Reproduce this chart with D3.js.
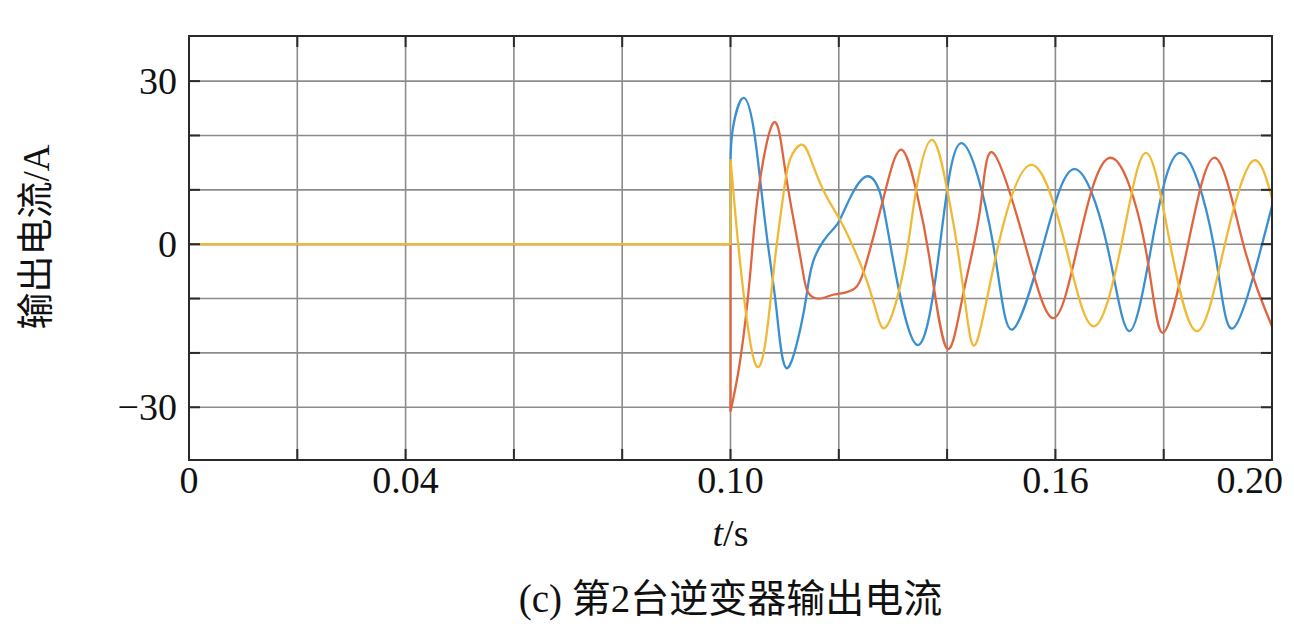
<!DOCTYPE html>
<html>
<head>
<meta charset="utf-8">
<script src="https://cdn.jsdelivr.net/npm/d3@7"></script>
<style>
  html, body { margin: 0; padding: 0; background: #fff; }
  svg { display: block; }
  text { font-family: "Liberation Serif", "Noto Sans CJK SC", serif; fill: #111; }
</style>
</head>
<body>
<svg id="chart" width="1294" height="636"></svg>
<script>
// ---- data (time in s, current in A) ----
const xTicks = [0, 0.02, 0.04, 0.06, 0.08, 0.10, 0.12, 0.14, 0.16, 0.18, 0.20];
const xTickLabels = {"0": "0", "0.04": "0.04", "0.1": "0.10", "0.16": "0.16", "0.2": "0.20"};
const yTicks = [-30, -20, -10, 0, 10, 20, 30];
const yTickLabels = {"-30": "\u221230", "0": "0", "30": "30"};
const stepTime = 0.1;

const phaseBlue = [
  [0.1000, 15.6], [0.1005, 21.7], [0.1024, 26.9], [0.1042, 21.7], [0.1054, 12.5],
  [0.1069, 0], [0.1085, -12.1], [0.1103, -22.8], [0.1130, -15.1], [0.1141, -9.0],
  [0.1152, -3.4], [0.1171, 0.5], [0.1189, 2.7], [0.1202, 4.5], [0.1226, 9.5],
  [0.1254, 12.5], [0.1276, 9.5], [0.1295, 0], [0.1344, -18.5], [0.1387, 0],
  [0.1427, 18.6], [0.1485, 0], [0.1520, -15.7], [0.1578, 0], [0.1635, 13.8],
  [0.1695, 0], [0.1736, -16.0], [0.1778, 0], [0.1830, 16.8], [0.1892, 0],
  [0.1929, -15.4], [0.2000, 7.0]
];
const phaseRed = [
  [0.1000, -30.8], [0.1018, -21.3], [0.1036, -5.9], [0.1051, 9.4], [0.1079, 22.3],
  [0.1098, 15.6], [0.1113, 6.4], [0.1130, -2.9], [0.1141, -8.4], [0.1156, -9.9],
  [0.1171, -9.9], [0.1189, -9.3], [0.1208, -9.0], [0.1230, -8.1], [0.1245, -5.3],
  [0.1264, 1.4], [0.1288, 10.6], [0.1316, 17.4], [0.1344, 9.4], [0.1368, -2.9],
  [0.1399, -19.1], [0.1430, -9.0], [0.1461, 6.4], [0.1485, 16.8], [0.1544, 0],
  [0.1596, -13.6], [0.1642, 0], [0.1701, 15.9], [0.1765, 0], [0.1798, -16.3],
  [0.1845, 0], [0.1895, 15.9], [0.1947, 0], [0.2000, -15.1]
];
const phaseYellow = [
  [0.1000, 15.6], [0.1011, 3.3], [0.1024, -9.0], [0.1039, -19.4], [0.1053, -22.5],
  [0.1067, -16.3], [0.1082, -2.9], [0.1098, 9.4], [0.1110, 15.6], [0.1130, 18.3],
  [0.1146, 16.2], [0.1171, 10.0], [0.1202, 4.5], [0.1226, -0.4], [0.1251, -6.5],
  [0.1270, -12.7], [0.1285, -15.4], [0.1307, -10.2], [0.1328, 0], [0.1344, 10.6],
  [0.1372, 19.2], [0.1399, 10.6], [0.1418, 0], [0.1436, -12.7], [0.1455, -17.9],
  [0.1495, 0], [0.1556, 14.6], [0.1618, 0], [0.1670, -15.1], [0.1722, 0],
  [0.1767, 16.8], [0.1812, 0], [0.1862, -16.0], [0.1913, 0], [0.1963, 15.2],
  [0.2000, 8.5]
];
const seriesList = [
  {name: "ia", data: phaseBlue, color: "#3a8fd0"},
  {name: "ib", data: phaseRed, color: "#e0653f"},
  {name: "ic", data: phaseYellow, color: "#f0b935"}
];

// ---- layout ----
const W = 1294;
const L = 189, R = 1272, T = 36, B = 460;
const svg = d3.select("#chart");
const x = d3.scaleLinear().domain([0, 0.2]).range([L, R]);
const y = d3.scaleLinear().domain([-39.7, 38.3]).range([B, T]);

// grid
const grid = svg.append("g");
grid.selectAll("line.gx").data(xTicks.slice(1, -1)).enter().append("line")
  .attr("x1", d => x(d)).attr("x2", d => x(d)).attr("y1", T).attr("y2", B)
  .attr("stroke", "#8c8c8c").attr("stroke-width", 1.6);
grid.selectAll("line.gy").data(yTicks).enter().append("line")
  .attr("x1", L).attr("x2", R).attr("y1", d => y(d)).attr("y2", d => y(d))
  .attr("stroke", "#8c8c8c").attr("stroke-width", 1.6);

// lines
svg.append("clipPath").attr("id", "clip").append("rect")
  .attr("x", L).attr("y", T).attr("width", R - L).attr("height", B - T);
const lines = svg.append("g").attr("clip-path", "url(#clip)");
const linear = d3.line().x(d => x(d[0])).y(d => y(d[1]));
const smooth = d3.line().x(d => x(d[0])).y(d => y(d[1])).curve(d3.curveNatural);
seriesList.forEach(s => {
  const pre = [[0, 0], [stepTime, 0], s.data[0]];
  lines.append("path").attr("d", linear(pre)).attr("fill", "none")
    .attr("stroke", s.color).attr("stroke-width", 2.3);
  lines.append("path").attr("d", smooth(s.data)).attr("fill", "none")
    .attr("stroke", s.color).attr("stroke-width", 2.3).attr("stroke-linejoin", "round");
});

// frame
svg.append("rect").attr("x", L).attr("y", T).attr("width", R - L).attr("height", B - T)
  .attr("fill", "none").attr("stroke", "#2a2a2a").attr("stroke-width", 2);

// ticks (inward)
const tickLen = 11;
const tk = svg.append("g").attr("stroke", "#2a2a2a").attr("stroke-width", 2);
xTicks.forEach(d => {
  tk.append("line").attr("x1", x(d)).attr("x2", x(d)).attr("y1", B).attr("y2", B - tickLen);
  tk.append("line").attr("x1", x(d)).attr("x2", x(d)).attr("y1", T).attr("y2", T + tickLen);
});
yTicks.forEach(d => {
  tk.append("line").attr("x1", L).attr("x2", L + tickLen).attr("y1", y(d)).attr("y2", y(d));
  tk.append("line").attr("x1", R).attr("x2", R - tickLen).attr("y1", y(d)).attr("y2", y(d));
});

// tick labels (keep the last one inside the page, as in the reference)
xTicks.forEach(d => {
  const lab = xTickLabels[String(+d.toFixed(2))];
  if (lab !== undefined) {
    const t = svg.append("text").attr("x", x(d)).attr("y", 493).attr("text-anchor", "middle")
      .attr("font-size", 38).text(lab);
    const bb = t.node().getBBox();
    if (bb.x + bb.width > W - 10) t.attr("x", x(d) - (bb.x + bb.width - (W - 11)));
  }
});
yTicks.forEach(d => {
  const lab = yTickLabels[String(d)];
  if (lab !== undefined) {
    svg.append("text").attr("x", 177).attr("y", y(d) + 13).attr("text-anchor", "end")
      .attr("font-size", 38).text(lab);
  }
});

// axis titles
const xt = svg.append("text").attr("x", x(0.1)).attr("y", 546).attr("text-anchor", "middle")
  .attr("font-size", 38);
xt.append("tspan").attr("font-style", "italic").text("t");
xt.append("tspan").text("/s");

svg.append("text").attr("transform", "translate(49,237) rotate(-90)")
  .attr("text-anchor", "middle").attr("font-size", 37).text("输出电流/A");

svg.append("text").attr("x", x(0.1)).attr("y", 612).attr("text-anchor", "middle")
  .attr("font-size", 39).text("(c) 第2台逆变器输出电流");
</script>
</body>
</html>
